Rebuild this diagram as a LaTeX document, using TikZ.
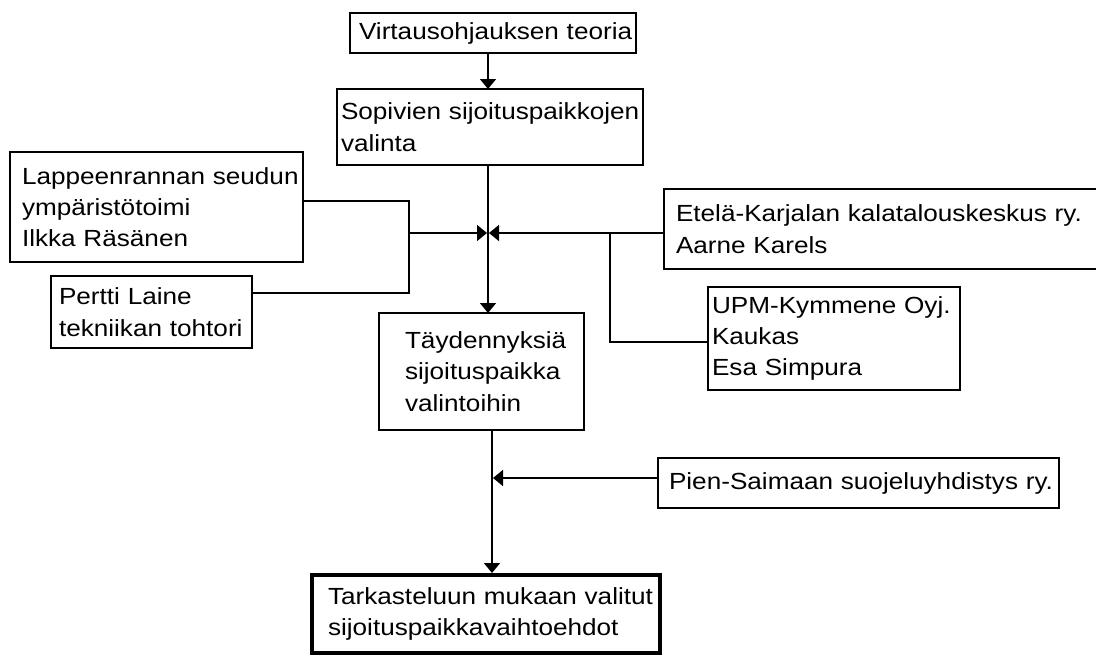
\documentclass[tikz,border=0pt]{standalone}
\usepackage{fontspec}
\setmainfont[FakeStretch=1.12]{Liberation Sans}
\usetikzlibrary{arrows.meta}
\tikzset{
  box/.style={draw, line width=1.2pt, rectangle, anchor=north west, align=left,
    inner ysep=0pt, outer sep=0pt, font=\fontsize{17.5}{23.5}\selectfont},
  arr/.style={line width=1.2pt, -{Triangle[length=7.5pt,width=12pt]}},
  ln/.style={line width=1.2pt},
}
\begin{document}
\begin{tikzpicture}[x=0.75pt,y=-0.75pt]
\useasboundingbox (0,0) rectangle (1096,664);
\fill[white] (0,0) rectangle (1096,664);

\node[box, minimum width=214.5pt, minimum height=30pt, text width=201pt, inner xsep=6.75pt] (virt) at (350,13) {\mbox{Virtausohjauksen teoria}};
\node[box, minimum width=229.5pt, minimum height=57pt, text width=223.5pt, inner xsep=3pt] (sop) at (337,89) {\mbox{Sopivien sijoituspaikkojen}\\valinta};
\node[box, minimum width=219.75pt, minimum height=82.5pt, text width=201.75pt, inner xsep=9pt] (lap) at (10,152) {\mbox{Lappeenrannan seudun}\\ympäristötoimi\\Ilkka Räsänen};
\node[box, minimum width=150.75pt, minimum height=54pt, text width=138.75pt, inner xsep=6pt] (pertti) at (51,276) {Pertti Laine\\\mbox{tekniikan tohtori}};
\node[box, minimum width=153.75pt, minimum height=87.75pt, text width=114.75pt, inner xsep=19.5pt] (tayd) at (379,313) {Täydennyksiä\\sijoituspaikka\\valintoihin};
\node[box, draw=none, minimum width=324pt, minimum height=60pt, text width=306pt, inner xsep=9pt] (etela) at (664,189) {\mbox{Etelä-Karjalan kalatalouskeskus ry.}\\Aarne Karels};
\draw[ln] (etela.north east) -- (etela.north west) -- (etela.south west) -- (etela.south east);
\node[box, minimum width=189pt, minimum height=77.25pt, text width=183pt, inner xsep=3pt] (upm) at (708,287) {\mbox{UPM-Kymmene Oyj.}\\Kaukas\\Esa Simpura};
\node[box, minimum width=300.75pt, minimum height=37.5pt, text width=284.25pt, inner xsep=8.25pt] (pien) at (658,458) {\mbox{Pien-Saimaan suojeluyhdistys ry.}};
\node[box, line width=3pt, minimum width=261pt, minimum height=58.5pt, text width=237pt, inner xsep=12pt] (tark) at (312,575) {\mbox{Tarkasteluun mukaan valitut}\\\mbox{sijoituspaikkavaihtoehdot}};

\coordinate (cx) at (488,0);
\coordinate (cx2) at (492,0);
\coordinate (lt) at (409,201);
\coordinate (lb) at (409,293);
\coordinate (jl) at (409,233);
\coordinate (jc) at (487,233);
\coordinate (jr) at (489,233);
\coordinate (rb) at (610,233);
\coordinate (pj) at (493,478);

\draw[arr] (virt.south -| cx) -- (sop.north -| cx);
\draw[arr] (sop.south -| cx) -- (tayd.north -| cx);
\draw[ln] ([yshift=4.5pt]lap.east) -- (lt) -- (lb) -- ([yshift=14.25pt]pertti.east);
\draw[arr] (jl) -- (jc);
\draw[arr] ([yshift=-3pt]etela.west) -- (jr);
\draw[ln] (rb) |- ([yshift=-2.6pt]upm.west);
\draw[arr] ([yshift=3.75pt]pien.west) -- (pj);
\draw[arr, shorten >=1.5pt] (tayd.south -| cx2) -- (tark.north -| cx2);
\end{tikzpicture}
\end{document}
